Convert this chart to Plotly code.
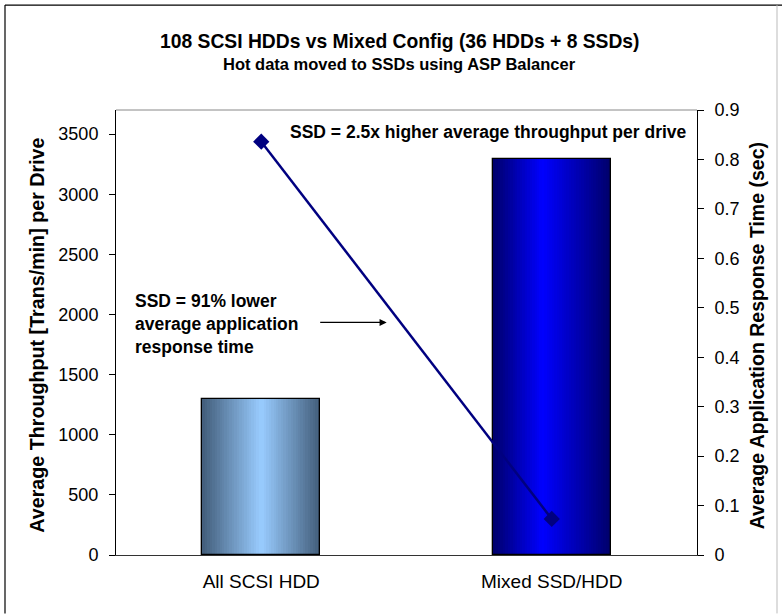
import plotly.graph_objects as go

# ---- data ----
categories = ["All SCSI HDD", "Mixed SSD/HDD"]
throughput = [1300, 3290]          # Trans/min per drive (left axis)
response_time = [0.836, 0.073]     # seconds (right axis)
left_ticks = [0, 500, 1000, 1500, 2000, 2500, 3000, 3500]
right_ticks = [0, 0.1, 0.2, 0.3, 0.4, 0.5, 0.6, 0.7, 0.8, 0.9]

title_text = "<b>108 SCSI HDDs vs Mixed Config (36 HDDs + 8 SSDs)</b>"
subtitle_text = "<b>Hot data moved to SSDs using ASP Balancer</b>"
note_top = "<b>SSD = 2.5x higher average throughput per drive</b>"
note_left = "<b>SSD = 91% lower<br>average application<br>response time</b>"
y_title = "<b>Average Throughput [Trans/min] per Drive</b>"
y2_title = "<b>Average Application Response Time (sec)</b>"

FONT = "Liberation Sans, Arial, sans-serif"

# plot-area geometry in pixels (for placing paper-anchored text)
W, H = 782, 614
L, R, T, B = 116, 697, 110, 555.5
def px(xp):
    return (xp - L) / (R - L)
def py(yp):
    return (B - yp) / (B - T)

def hex2rgb(h):
    h = h.lstrip("#")
    return tuple(int(h[i:i + 2], 16) for i in (0, 2, 4))

def lerp(c1, c2, t):
    a, b = hex2rgb(c1), hex2rgb(c2)
    return "rgb(%d,%d,%d)" % tuple(round(a[i] + (b[i] - a[i]) * t) for i in range(3))

# gradient styles per bar: (edge colour, centre colour, peak position)
grad = [("#425D7A", "#99CCFF", 0.50), ("#00006A", "#0000FF", 0.42)]

fig = go.Figure()

BW = 0.405
N = 48
sw = BW / N
for i in range(N):
    t = (i + 0.5) / N
    cols = []
    for edge, centre, peak in grad:
        if t <= peak:
            f = t / peak
        else:
            f = (1 - t) / (1 - peak)
        cols.append(lerp(edge, centre, f))
    w = sw * 1.4 if i < N - 1 else sw
    fig.add_trace(go.Bar(
        x=categories, y=throughput, width=[w, w], offset=[-BW / 2 + i * sw] * 2,
        marker=dict(color=cols, line=dict(width=0)), showlegend=False,
        hoverinfo="skip",
    ))

# outline
fig.add_trace(go.Bar(
    x=categories, y=throughput, width=[BW, BW],
    marker=dict(color="rgba(0,0,0,0)", line=dict(color="black", width=1.3)),
    showlegend=False, hoverinfo="skip",
))

# response time line
fig.add_trace(go.Scatter(
    x=categories, y=response_time, yaxis="y2", mode="lines+markers",
    line=dict(color="#000080", width=2.5),
    marker=dict(symbol="diamond", size=12.5, color="#000080"),
    showlegend=False, hoverinfo="skip",
))

tick_font = dict(family=FONT, size=18, color="black")

fig.update_layout(
    width=W, height=H,
    margin=dict(l=L, r=W - R, t=T, b=H - B),
    paper_bgcolor="white", plot_bgcolor="white",
    barmode="overlay", bargap=0, hovermode=False,
    font=dict(family=FONT, color="black"),
    xaxis=dict(range=[-0.5, 1.5], showline=True, linecolor="#333333", linewidth=1,
               ticks="", tickfont=dict(family=FONT, size=19, color="black"),
               showgrid=False, zeroline=False, ticklabelstandoff=9),
    yaxis=dict(range=[0, 3700], tickvals=left_ticks, showline=True, linecolor="black",
               linewidth=1, ticks="outside", ticklen=6, tickcolor="black",
               tickfont=tick_font, showgrid=False, zeroline=False, ticklabelstandoff=7),
    yaxis2=dict(range=[0, 0.9], tickvals=right_ticks, overlaying="y", side="right",
                showline=True, linecolor="black", linewidth=1, ticks="outside",
                ticklen=6, tickcolor="black", tickfont=tick_font, showgrid=False,
                zeroline=False, ticklabelstandoff=7),
)

ann = [
    dict(text=title_text, x=px(400), y=py(41), font=dict(size=19.3)),
    dict(text=subtitle_text, x=px(399), y=py(64), font=dict(size=16.5)),
    dict(text=note_top, x=px(689), y=py(132), xanchor="right", font=dict(size=17.5)),
    dict(text=note_left, x=px(133), y=py(324), xanchor="left", align="left",
         font=dict(size=17.5)),
    dict(text=y_title, x=px(37), y=py(336), textangle=-90, font=dict(size=19.7)),
    dict(text=y2_title, x=px(757), y=py(336.5), textangle=-90, font=dict(size=19.5)),
]
for a in ann:
    a.setdefault("xanchor", "center")
    a.update(xref="paper", yref="paper", yanchor="middle", showarrow=False)
    a["font"] = dict(family=FONT, color="black", **a["font"])
    fig.add_annotation(**a)

# arrow
fig.add_annotation(xref="paper", yref="paper", x=px(386.7), y=py(322.7), text="",
                   showarrow=True, ax=-68, ay=0, arrowhead=2, arrowsize=1.1,
                   arrowwidth=1.3, arrowcolor="black", standoff=0)

# plot-area top border and outer chart frame
shapes = [
    dict(type="line", x0=0, x1=1, y0=1, y1=1, line=dict(color="#888888", width=1)),
    dict(type="line", x0=px(5), x1=px(782), y0=py(5), y1=py(5), line=dict(color="black", width=1.2)),
    dict(type="line", x0=px(5), x1=px(5), y0=py(5), y1=py(614), line=dict(color="black", width=1.2)),
    dict(type="line", x0=px(777), x1=px(777), y0=py(5), y1=py(614), line=dict(color="#bbbbbb", width=1)),
]
for s in shapes:
    s.update(xref="paper", yref="paper", layer="above")
    fig.add_shape(**s)

fig.write_html("out.html")
